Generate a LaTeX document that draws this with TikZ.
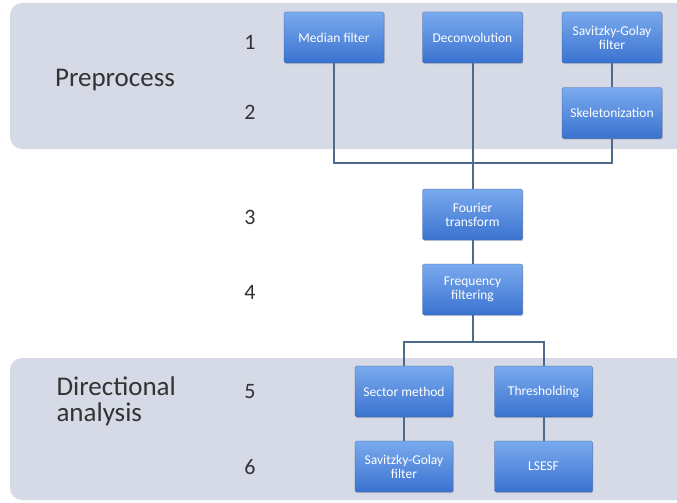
\documentclass[tikz,border=0pt]{standalone}
\usepackage{fontspec}
\setmainfont{Carlito}
\usepackage{tikz}
\usetikzlibrary{shadows}

\definecolor{bandgray}{HTML}{D5DAE6}
\definecolor{boxtop}{HTML}{7AAAEE}
\definecolor{boxbot}{HTML}{3A72CF}
\definecolor{linkblue}{HTML}{4F6B8C}
\definecolor{labelgray}{HTML}{333333}

\begin{document}
\begin{tikzpicture}[
          x=1pt, y=-1pt,
          every node/.style={align=center},
          band/.style={fill=bandgray, draw=none, rounded corners=12pt},
          stage/.style={rectangle, rounded corners=1.5pt, top color=boxtop, bottom color=boxbot,
            draw=boxbot!80!black, line width=0.3pt, text=white, font=\fontsize{13.5}{14}\selectfont,
            minimum width=100pt, minimum height=51pt, inner sep=1pt,
            drop shadow={shadow xshift=0.8pt, shadow yshift=-1.2pt, opacity=0.35}},
          num/.style={text=labelgray, font=\fontsize{22}{22}\selectfont},
          phase/.style={text=labelgray, font=\fontsize{27}{26}\selectfont, align=left},
          link/.style={draw=linkblue, line width=2pt}
        ]
          \clip (0,0) rectangle (677,503);
          \useasboundingbox (0,0) rectangle (677,503);

          % Background bands
          \fill[band] (10,3) rectangle (700,149);
          \fill[band] (10,358) rectangle (700,500);

          % Phase names and step numbers
          \node[phase] (pre) at (115,80) {Preprocess};
          \node[phase, anchor=west] (dir) at (53,401) {Directional\\analysis};
          \node[num] (n1) at (250,42) {1};
          \node[num] (n2) at (250,112) {2};
          \node[num] (n3) at (250,217) {3};
          \node[num] (n4) at (250,292) {4};
          \node[num] (n5) at (250,392) {5};
          \node[num] (n6) at (250,467) {6};

          % Boxes
          \node[stage] (median) at (334,37.5) {Median filter};
          \node[stage] (deconv) at (472.5,37.5) {Deconvolution};
          \node[stage] (sgtop) at (612,37.5) {Savitzky-Golay\\filter};
          \node[stage] (skel) at (612,113) {Skeletonization};
          \node[stage] (fourier) at (472.5,214.5) {Fourier\\transform};
          \node[stage] (freq) at (472.5,289.5) {Frequency\\filtering};
          \node[stage, minimum width=98pt] (sector) at (404,391.5) {Sector method};
          \node[stage, minimum width=98pt] (thresh) at (543.5,391.5) {Thresholding};
          \node[stage, minimum width=98pt] (sgbot) at (404,466.5) {Savitzky-Golay\\filter};
          \node[stage, minimum width=98pt] (lsesf) at (543.5,466.5) {LSESF};

          % Junction points
          \coordinate (join) at (472.5,163);
          \coordinate (split) at (472.5,342);

          % Connectors
          \draw[link] (median.south) |- (join);
          \draw[link] (skel.south) |- (join);
          \draw[link] (deconv) -- (fourier);
          \draw[link] (sgtop) -- (skel);
          \draw[link] (fourier) -- (freq);
          \draw[link] (freq) -- (split);
          \draw[link] (sector.north) |- (split) -| (thresh.north);
          \draw[link] (sector) -- (sgbot);
          \draw[link] (thresh) -- (lsesf);
        \end{tikzpicture}
\end{document}
